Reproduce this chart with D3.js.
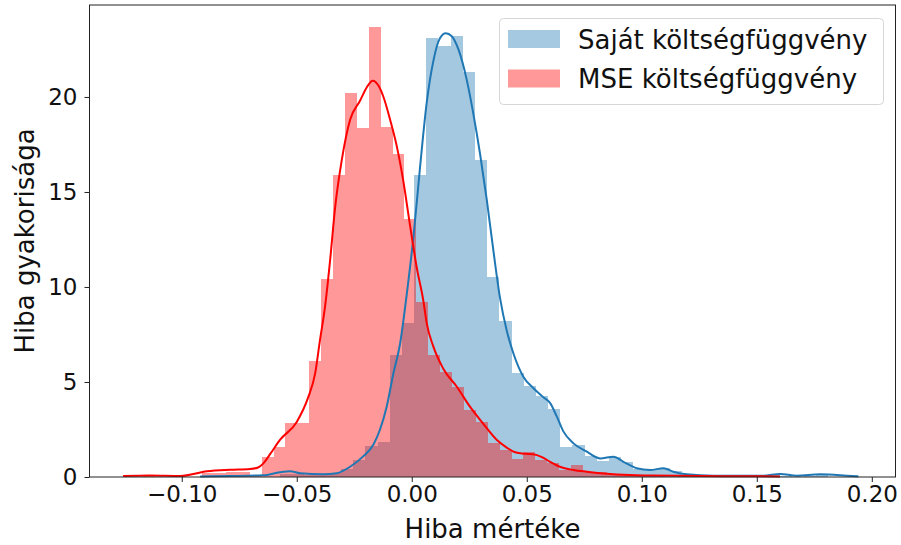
<!DOCTYPE html>
<html><head><meta charset="utf-8">
<script src="https://cdn.jsdelivr.net/npm/d3@7/dist/d3.min.js"></script>
<style>body{margin:0;background:#fff}svg{display:block}</style>
</head><body>
<svg id="chart" width="901" height="545"></svg>
<script>
// ---- data ----
const seriesNames = ["Saját költségfüggvény", "MSE költségfüggvény"];
const xLabel = "Hiba mértéke";
const yLabel = "Hiba gyakorisága";
const xTicks = [-0.10, -0.05, 0.00, 0.05, 0.10, 0.15, 0.20];
const yTicks = [0, 5, 10, 15, 20];

// "Saját" (blue) histogram
const blueBinStart = -0.05726;
const blueBinWidth = 0.005296;
const blueHeights = [0.15, 0.15, 0.1, 0.1, 0.2, 0.4, 0.9, 1.63, 1.86, 6.4, 8.1, 15.9, 23.1, 22.7, 23.2, 21.3,
  16.7, 10.5, 8.2, 5.45, 4.8, 4.25, 3.6, 1.6, 1.7, 1.1, 0.85, 1.05, 0.8, 0.4, 0.4, 0.45, 0.3, 0.1,
  0.05, 0.05, 0, 0, 0, 0.05, 0.1, 0.05, 0, 0.05, 0.1];

// MSE (red) histogram
const redBinStart = -0.1170;
const redBinWidth = 0.005174;
const redHeights = [0.1, 0, 0, 0, 0, 0.2, 0.2, 0.25, 0.25, 0.05, 1.07, 1.6, 2.86, 2.86, 6.1, 10.4, 15.9,
  20.2, 18.35, 23.7, 18.4, 17.0, 13.6, 9.2, 6.4, 5.5, 4.75, 3.5, 2.9, 1.8, 1.4, 0.95, 1.3, 0.9, 0.75,
  0.37, 0.63, 0.28, 0.28, 0.1, 0.1, 0.05, 0.05, 0.05, 0, 0.05];

// KDE curves
const blueKdeX = [-0.0920, -0.0790, -0.0647, -0.0573, -0.0529, -0.0486, -0.0384, -0.0326, -0.0268, -0.0210,
  -0.0167, -0.0138, -0.0109, -0.0080, -0.0051, -0.0022, 0.0007, 0.0036, 0.0065, 0.0094, 0.0123, 0.0148,
  0.0174, 0.0203, 0.0239, 0.0268, 0.0297, 0.0326, 0.0355, 0.0384, 0.0413, 0.0442, 0.0485, 0.0529, 0.0572,
  0.0601, 0.0630, 0.0659, 0.0703, 0.0761, 0.0819, 0.0877, 0.0920, 0.0978, 0.1036, 0.1094, 0.1137, 0.1196,
  0.1311, 0.1529, 0.1601, 0.1674, 0.1775, 0.1891, 0.1942];
const blueKdeY = [0.03, 0.05, 0.09, 0.25, 0.3, 0.2, 0.14, 0.2, 0.54, 1.1,
  1.7, 2.5, 3.7, 5.45, 7.0, 9.6, 12.6, 16.3, 19.7, 21.9, 23.1, 23.35,
  23.2, 22.5, 20.9, 19.1, 17.0, 14.6, 11.9, 9.4, 7.7, 6.5, 5.28, 4.67, 4.2,
  3.9, 3.2, 2.4, 1.77, 1.33, 0.98, 1.07, 0.8, 0.46, 0.37, 0.46, 0.28, 0.14,
  0.07, 0.07, 0.16, 0.07, 0.14, 0.07, 0.03];

const redKdeX = [-0.1255, -0.1138, -0.1007, -0.0890, -0.0790, -0.0703, -0.0668, -0.0645, -0.0616, -0.0573,
  -0.0500, -0.0450, -0.0420, -0.0399, -0.0377, -0.0355, -0.0333, -0.0304, -0.0268, -0.0225, -0.0196,
  -0.0170, -0.0145, -0.0123, -0.0094, -0.0065, -0.0037, -0.0007, 0.0022, 0.0050, 0.0065, 0.0094, 0.0137,
  0.0196, 0.0253, 0.0311, 0.0370, 0.0413, 0.0449, 0.0492, 0.0527, 0.0566, 0.0601, 0.0644, 0.0703, 0.0761,
  0.0833, 0.0949, 0.1036, 0.1253, 0.1601];
const redKdeY = [0.05, 0.08, 0.05, 0.3, 0.38, 0.42, 0.5, 0.72, 1.2, 1.95,
  2.9, 4.2, 5.45, 7.2, 8.96, 11.4, 14.2, 16.7, 18.8, 19.8, 20.5,
  20.86, 20.6, 20.0, 18.8, 17.4, 15.6, 13.2, 11.0, 9.3, 8.1, 6.86, 5.7,
  4.75, 3.7, 2.8, 1.95, 1.55, 1.3, 1.22, 1.2, 1.05, 0.8, 0.54, 0.37, 0.28,
  0.19, 0.1, 0.08, 0.05, 0.03];

// ---- chart ----
const W = 901, H = 545;
const plot = {left: 89.5, right: 895.5, top: 5, bottom: 477};
const blueCol = "#1f77b4", redCol = "#ff0000";
const font = "DejaVu Sans, sans-serif";
const textCol = "#111";

const x = d3.scaleLinear().domain([-0.1401, 0.2103]).range([plot.left, plot.right]);
const y = d3.scaleLinear().domain([0, 24.84]).range([plot.bottom, plot.top]);

const svg = d3.select("#chart");
svg.append("rect").attr("width", W).attr("height", H).attr("fill", "#fff");

function drawHist(heights, start, width, color) {
  const bins = heights.map((h, i) => ({x0: start + i * width, x1: start + (i + 1) * width, h}))
    .filter(d => d.h > 0);
  const g = svg.append("g").attr("opacity", 0.4);
  g.selectAll("rect").data(bins).join("rect")
    .attr("x", d => x(d.x0))
    .attr("width", d => x(d.x1) - x(d.x0))
    .attr("y", d => y(d.h))
    .attr("height", d => y(0) - y(d.h))
    .attr("fill", color)
    .attr("shape-rendering", "crispEdges");
}
function drawKde(xs, ys, color) {
  const pts = xs.map((v, i) => [v, ys[i]]);
  const line = d3.line().x(d => x(d[0])).y(d => y(d[1])).curve(d3.curveMonotoneX);
  svg.append("path").datum(pts).attr("d", line)
    .attr("fill", "none").attr("stroke", color).attr("stroke-width", 2)
    .attr("stroke-linejoin", "round").attr("stroke-linecap", "butt");
}

drawHist(blueHeights, blueBinStart, blueBinWidth, blueCol);
drawHist(redHeights, redBinStart, redBinWidth, redCol);
drawKde(blueKdeX, blueKdeY, blueCol);
drawKde(redKdeX, redKdeY, redCol);

// axes
const xAxis = d3.axisBottom(x).tickValues(xTicks).tickFormat(d3.format(".2f")).tickSize(5).tickPadding(4);
const yAxis = d3.axisLeft(y).tickValues(yTicks).tickFormat(d3.format("d")).tickSize(5).tickPadding(7);
const gx = svg.append("g").attr("transform", `translate(0,${plot.bottom})`).call(xAxis);
const gy = svg.append("g").attr("transform", `translate(${plot.left},0)`).call(yAxis);
[gx, gy].forEach(g => {
  g.select(".domain").remove();
  g.selectAll(".tick line").attr("stroke", "#222").attr("stroke-width", 1);
  g.selectAll(".tick text").attr("font-family", font).attr("font-size", 23).attr("fill", textCol);
});

// frame
svg.append("rect").attr("x", plot.left).attr("y", plot.top)
  .attr("width", plot.right - plot.left).attr("height", plot.bottom - plot.top)
  .attr("fill", "none").attr("stroke", "#222").attr("stroke-width", 1);

// labels
svg.append("text").attr("x", (plot.left + plot.right) / 2).attr("y", 538)
  .attr("text-anchor", "middle").attr("font-family", font).attr("font-size", 26).attr("fill", textCol)
  .text(xLabel);
svg.append("text").attr("transform", `translate(34,${(plot.top + plot.bottom) / 2}) rotate(-90)`)
  .attr("text-anchor", "middle").attr("font-family", font).attr("font-size", 26).attr("fill", textCol)
  .text(yLabel);

// legend
const lg = svg.append("g");
lg.append("rect").attr("x", 499.5).attr("y", 18.5).attr("width", 384).attr("height", 86).attr("rx", 4)
  .attr("fill", "#fff").attr("fill-opacity", 0.8).attr("stroke", "#d6d6d6").attr("stroke-width", 1);
const legendItems = [{name: seriesNames[0], color: blueCol, cy: 39}, {name: seriesNames[1], color: redCol, cy: 78.5}];
legendItems.forEach(it => {
  lg.append("rect").attr("x", 508).attr("y", it.cy - 9).attr("width", 52).attr("height", 18)
    .attr("fill", it.color).attr("fill-opacity", 0.4);
  lg.append("text").attr("x", 578).attr("y", it.cy + 9.5).attr("font-family", font).attr("font-size", 26)
    .attr("fill", textCol).text(it.name);
});
</script>
</body></html>
